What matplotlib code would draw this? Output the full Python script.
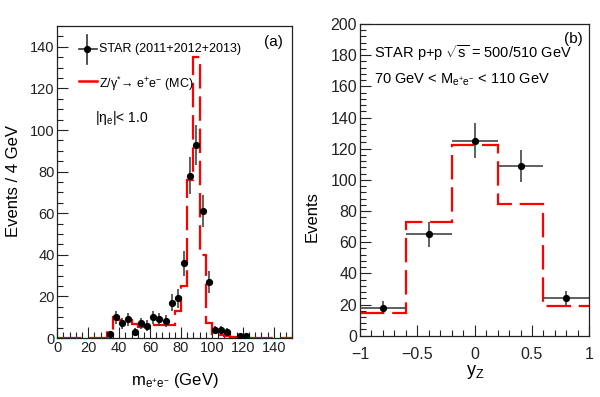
import numpy as np
import matplotlib
matplotlib.use("Agg")
import matplotlib.pyplot as plt
from matplotlib.ticker import MultipleLocator

plt.rcParams['font.family'] = ['Liberation Sans', 'DejaVu Sans']
plt.rcParams['mathtext.fontset'] = 'custom'
plt.rcParams['mathtext.rm'] = 'Liberation Sans'
plt.rcParams['mathtext.it'] = 'Liberation Sans'
plt.rcParams['mathtext.bf'] = 'Liberation Sans:bold'

# ---------------- data: panel (a) ----------------
mass_edges = np.arange(0, 153, 4)           # 0..152, 4 GeV bins
mc_mass = [0, 0, 0, 0, 0, 0, 0, 0,
           3.5, 10.3, 8.7, 8.5, 6.6, 5.4, 5.8, 6.1, 6.2, 6.4, 6.3,
           13.2, 25, 76, 135, 40, 7, 2, 1.5, 1, 0.5, 0.3, 0.3,
           0, 0, 0, 0, 0, 0, 0]
data_mass_x = [34, 38, 42, 46, 50, 54, 58, 62, 66, 70, 74, 78, 82, 86, 90, 94,
               98, 102, 106, 110, 118, 122]
data_mass_y = [2, 10, 7, 9, 3, 7, 6, 10, 9, 8, 17, 19, 36, 78, 93, 61,
               27, 4, 4, 3, 1, 1]

# ---------------- data: panel (b) ----------------
yz_edges = [-1.0, -0.6, -0.2, 0.2, 0.6, 1.0]
mc_yz = [14.5, 72.8, 122.5, 84.2, 19]
data_yz_x = [-0.8, -0.4, 0.0, 0.4, 0.8]
data_yz_y = [18, 65, 125, 109, 24]

W, H = 600, 397
fig = plt.figure(figsize=(6.0, 3.97), dpi=100)

red = '#ff0000'
dash = (0, (11, 3.5))

def style_axes(ax, fs):
    for s in ax.spines.values():
        s.set_linewidth(0.9)
        s.set_color('#222222')
    ax.tick_params(which='both', direction='in', top=False, right=False,
                   labelsize=fs, colors='#222222', pad=2)
    ax.tick_params(which='major', length=8, width=0.8)
    ax.tick_params(which='minor', length=4, width=0.8)

# ---------------- panel (a) ----------------
axa = fig.add_axes([57.3 / W, (397 - 338) / H, 235 / W, 312 / H])
axa.stairs(mc_mass, mass_edges, baseline=None, color=red, lw=1.6,
           linestyle=dash, zorder=2)
ya = np.array(data_mass_y, dtype=float)
axa.errorbar(data_mass_x, ya, yerr=np.sqrt(ya), fmt='o', ms=4.2,
             color='black', ecolor='#444444', elinewidth=1.2, capsize=0,
             zorder=3)
axa.set_xlim(0, 152)
axa.set_ylim(0, 150)
axa.xaxis.set_major_locator(MultipleLocator(20))
axa.xaxis.set_minor_locator(MultipleLocator(4))
axa.yaxis.set_major_locator(MultipleLocator(20))
axa.yaxis.set_minor_locator(MultipleLocator(5))
style_axes(axa, 10.5)

# legend (a)
ta = fig.transFigure
fig.lines.append(plt.Line2D([79 / W, 97 / W], [1 - 49 / H, 1 - 49 / H],
                            transform=ta, color='#333333', lw=1.2))
fig.lines.append(plt.Line2D([87 / W, 87 / W], [1 - 35 / H, 1 - 64 / H],
                            transform=ta, color='#333333', lw=1.2))
fig.lines.append(plt.Line2D([87 / W], [1 - 49 / H], transform=ta,
                            marker='o', ms=4.2, color='black', lw=0))
fig.text(99 / W, 1 - 49 / H, 'STAR (2011+2012+2013)', fontsize=9,
         ha='left', va='center')
fig.lines.append(plt.Line2D([79 / W, 97 / W], [1 - 81 / H, 1 - 81 / H],
                            transform=ta, color=red, lw=1.8))
fig.text(99 / W, 1 - 84 / H, 'Z/\u03b3$^{*}$\u2192 e$^{+}$e$^{-}$ (MC)',
         fontsize=9, ha='left', va='center')
fig.text(95 / W, 1 - 118 / H, r'|$\eta_{\mathrm{e}}$|< 1.0', fontsize=10,
         ha='left', va='center')
fig.text(283 / W, 1 - 42 / H, '(a)', fontsize=11, ha='right', va='center')

fig.text(13.5 / W, 1 - 181 / H, 'Events / 4 GeV', fontsize=12,
         rotation=90, ha='center', va='center')
fig.text(175 / W, 1 - 381 / H, r'm$_{\mathrm{e^{+}e^{-}}}$ (GeV)', fontsize=12,
         ha='center', va='center')

# ---------------- panel (b) ----------------
axb = fig.add_axes([360 / W, (397 - 335.7) / H, 229.3 / W, 311.7 / H])
axb.stairs(mc_yz, yz_edges, baseline=None, color=red, lw=1.6,
           linestyle=dash, zorder=2)
yb = np.array(data_yz_y, dtype=float)
axb.errorbar(data_yz_x, yb, yerr=np.sqrt(yb), xerr=0.2, fmt='o', ms=4.2,
             color='black', ecolor='#444444', elinewidth=1.2, capsize=0,
             zorder=3)
axb.set_xlim(-1, 1)
axb.set_ylim(0, 200)
axb.xaxis.set_minor_locator(MultipleLocator(0.1))
axb.yaxis.set_major_locator(MultipleLocator(20))
axb.yaxis.set_minor_locator(MultipleLocator(4))
axb.set_xticks([-1, -0.5, 0, 0.5, 1])
axb.set_xticklabels(['\u22121', '\u22120.5', '0', '0.5', '1'])
style_axes(axb, 11.5)
axb.tick_params(axis='x', pad=8)

fig.text(374 / W, 1 - 53 / H, r'STAR p+p $\sqrt{\mathrm{s}}$ = 500/510 GeV',
         fontsize=10.5, ha='left', va='center')
fig.text(374 / W, 1 - 80 / H,
         r'70 GeV < M$_{\mathrm{e^{+}e^{-}}}$ < 110 GeV',
         fontsize=10.5, ha='left', va='center')
fig.text(583 / W, 1 - 39 / H, '(b)', fontsize=11, ha='right', va='center')

fig.text(312 / W, 1 - 217 / H, 'Events', fontsize=12,
         rotation=90, ha='center', va='center')
fig.text(475 / W, 1 - 372 / H, r'y$_{\mathrm{Z}}$', fontsize=13,
         ha='center', va='center')

fig.savefig('out.png', dpi=100)
